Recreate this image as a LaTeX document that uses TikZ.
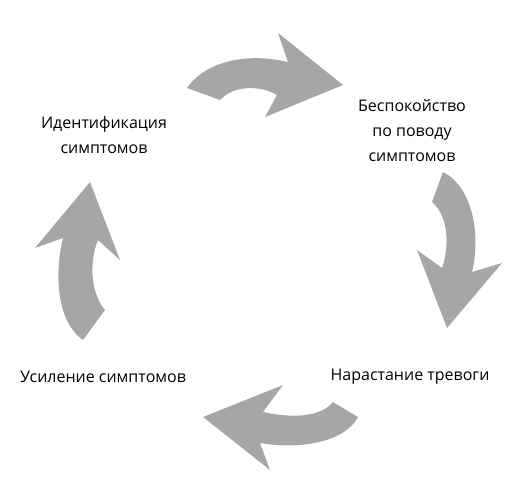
\documentclass[tikz,border=0pt]{standalone}
\usepackage{fontspec}
\setmainfont{Open Sans}
\definecolor{arrowgray}{RGB}{166,166,166}
\begin{document}
\begin{tikzpicture}[x=1pt,y=-1pt,
  lbl/.style={font=\fontsize{16}{25}\selectfont, align=center, inner sep=0pt, text=black},
  bigarrow/.style={fill=arrowgray, draw=none}]
\useasboundingbox (0,0) rectangle (517,482);
% arrows
\path[bigarrow] (187,88) .. controls (205,62) and (245,52) .. (288,62) -- (278,33) -- (343,85) -- (265,117) -- (277,95) .. controls (262,86) and (235,84) .. (220,100) -- cycle;
\path[bigarrow] (443,172) .. controls (470,185) and (482,230) .. (472,272) -- (502,263) -- (447,328) -- (417,250) -- (442,268) .. controls (450,245) and (448,215) .. (432,202) -- cycle;
\path[bigarrow] (358,417) .. controls (345,442) and (300,450) .. (260,443) -- (270,470) -- (203,417) -- (283,385) -- (263,412) .. controls (290,418) and (320,418) .. (333,402) -- cycle;
\path[bigarrow] (83,340) .. controls (55,320) and (55,270) .. (63,238) -- (35,248) -- (90,182) -- (120,260) -- (98,240) .. controls (88,265) and (92,295) .. (105,310) -- cycle;
% labels
\node[lbl] (ident) at (104,135) {Идентификация\\симптомов};
\node[lbl] (worry) at (412,131) {Беспокойство\\по поводу\\симптомов};
\node[lbl] (grow) at (410,377) {Нарастание тревоги};
\node[lbl] (incr) at (103,377) {Усиление симптомов};
\end{tikzpicture}
\end{document}
